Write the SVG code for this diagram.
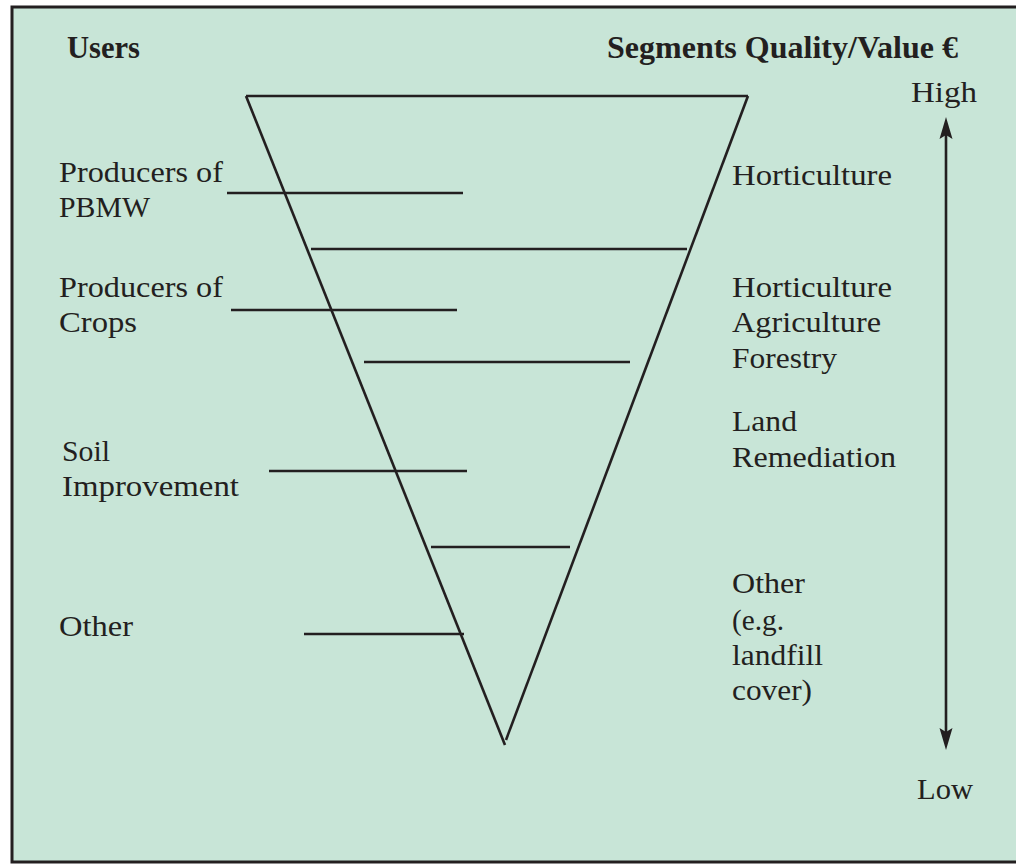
<svg xmlns="http://www.w3.org/2000/svg" width="1016" height="866" viewBox="0 0 1016 866">
<style>
.ln{stroke:#231f20;stroke-width:2.6;fill:none}
.t{font-family:'Liberation Serif','Times New Roman',Times,serif;font-size:29px;fill:#231f20}
.b{font-family:'Liberation Serif','Times New Roman',Times,serif;font-size:31px;font-weight:bold;fill:#231f20}
.ah{fill:#231f20}
</style>
<rect x="0" y="0" width="1016" height="866" fill="#ffffff"/>
<rect x="12" y="7" width="1030" height="855" fill="#c8e5d7" stroke="#231f20" stroke-width="3"/>
<g id="headers">
<text class="b" x="67" y="58" textLength="73" lengthAdjust="spacingAndGlyphs">Users</text>
<text class="b" x="607" y="58" textLength="351" lengthAdjust="spacingAndGlyphs">Segments Quality/Value €</text>
</g>
<g id="funnel">
<line class="ln" x1="246" y1="96" x2="748" y2="96"/>
<line class="ln" x1="246" y1="96" x2="505" y2="745"/>
<line class="ln" x1="748" y1="96" x2="506" y2="740"/>
<line class="ln" x1="311" y1="249" x2="687" y2="249"/>
<line class="ln" x1="364" y1="362" x2="630" y2="362"/>
<line class="ln" x1="431" y1="547" x2="570" y2="547"/>
</g>
<g id="connectors">
<line class="ln" x1="227" y1="193" x2="463" y2="193"/>
<line class="ln" x1="231" y1="310" x2="457" y2="310"/>
<line class="ln" x1="269" y1="471" x2="467" y2="471"/>
<line class="ln" x1="304" y1="634" x2="464" y2="634"/>
</g>
<g id="users">
<g id="u1"><text class="t" x="59" y="182" textLength="164" lengthAdjust="spacingAndGlyphs">Producers of</text><text class="t" x="59" y="217" textLength="91" lengthAdjust="spacingAndGlyphs">PBMW</text></g>
<g id="u2"><text class="t" x="59" y="297" textLength="164" lengthAdjust="spacingAndGlyphs">Producers of</text><text class="t" x="59" y="332" textLength="78" lengthAdjust="spacingAndGlyphs">Crops</text></g>
<g id="u3"><text class="t" x="62" y="461" textLength="48" lengthAdjust="spacingAndGlyphs">Soil</text><text class="t" x="62" y="496" textLength="177" lengthAdjust="spacingAndGlyphs">Improvement</text></g>
<g id="u4"><text class="t" x="59" y="636" textLength="74" lengthAdjust="spacingAndGlyphs">Other</text></g>
</g>
<g id="segments">
<g id="s1"><text class="t" x="732" y="185" textLength="160" lengthAdjust="spacingAndGlyphs">Horticulture</text></g>
<g id="s2"><text class="t" x="732" y="297" textLength="160" lengthAdjust="spacingAndGlyphs">Horticulture</text><text class="t" x="732" y="332" textLength="149" lengthAdjust="spacingAndGlyphs">Agriculture</text><text class="t" x="732" y="368" textLength="105" lengthAdjust="spacingAndGlyphs">Forestry</text></g>
<g id="s3"><text class="t" x="732" y="431" textLength="65" lengthAdjust="spacingAndGlyphs">Land</text><text class="t" x="732" y="467" textLength="164" lengthAdjust="spacingAndGlyphs">Remediation</text></g>
<g id="s4"><text class="t" x="732" y="593" textLength="73" lengthAdjust="spacingAndGlyphs">Other</text><text class="t" x="732" y="630" textLength="52" lengthAdjust="spacingAndGlyphs">(e.g.</text><text class="t" x="732" y="665" textLength="91" lengthAdjust="spacingAndGlyphs">landfill</text><text class="t" x="732" y="700" textLength="80" lengthAdjust="spacingAndGlyphs">cover)</text></g>
</g>
<g id="scale">
<text class="t" x="911" y="102" textLength="66" lengthAdjust="spacingAndGlyphs">High</text>
<text class="t" x="917" y="799" textLength="56" lengthAdjust="spacingAndGlyphs">Low</text>
<line class="ln" x1="946" y1="132" x2="946" y2="735"/>
<polygon class="ah" points="946,117 952.5,139 946,135 939.5,139"/>
<polygon class="ah" points="946,750 952.5,728 946,732 939.5,728"/>
</g>
</svg>
